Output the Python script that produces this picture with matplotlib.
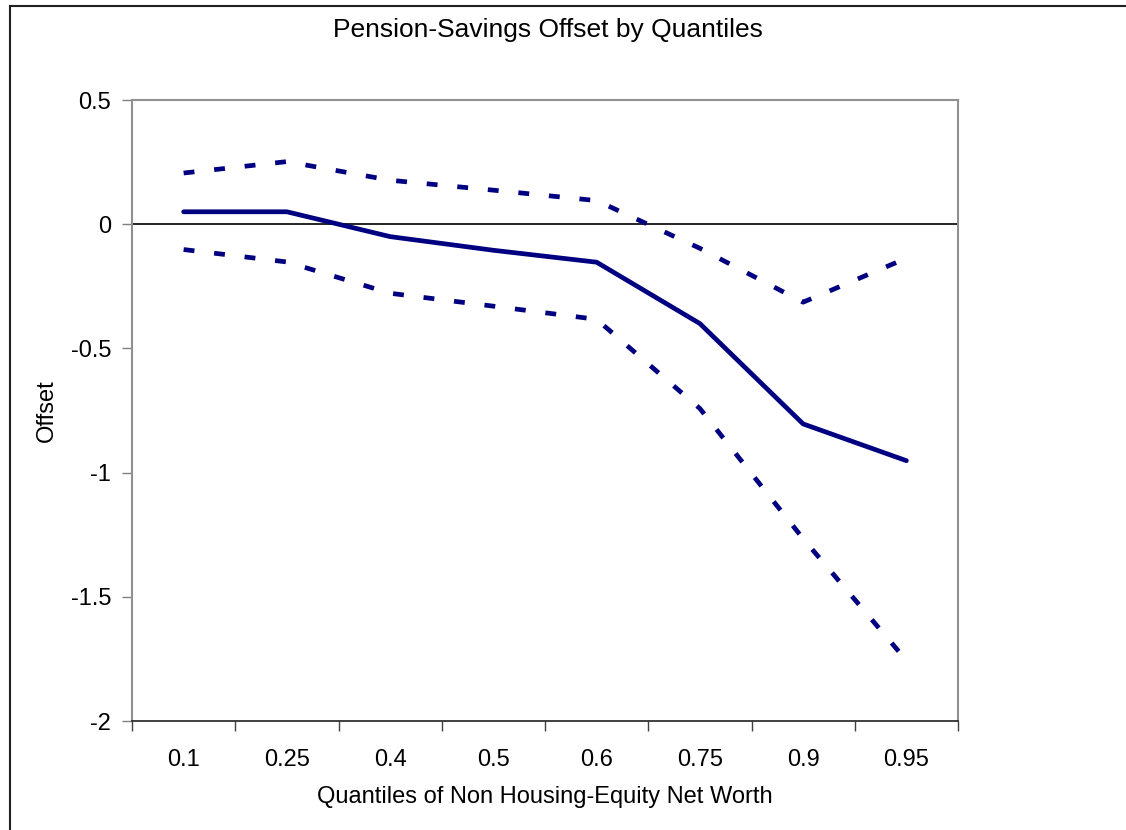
import matplotlib
matplotlib.use("Agg")
import matplotlib.pyplot as plt
from matplotlib.lines import Line2D

plt.rcParams['font.family'] = ['Liberation Sans', 'DejaVu Sans']

categories = ["0.1", "0.25", "0.4", "0.5", "0.6", "0.75", "0.9", "0.95"]
offset = [0.05, 0.05, -0.05, -0.105, -0.153, -0.40, -0.804, -0.952]
upper = [0.206, 0.252, 0.177, 0.137, 0.095, -0.097, -0.314, -0.137]
lower = [-0.102, -0.152, -0.278, -0.33, -0.383, -0.742, -1.266, -1.756]
yticks = [0.5, 0, -0.5, -1, -1.5, -2]
yticklabels = ["0.5", "0", "-0.5", "-1", "-1.5", "-2"]

W, H = 1126, 830
fig = plt.figure(figsize=(W / 100, H / 100), dpi=100)
ax = fig.add_axes([132 / W, 1 - 721 / H, (958 - 132) / W, (721 - 100) / H])

x = list(range(len(categories)))
navy = "#000080"
lw = 3.4
ax.plot(x, offset, color=navy, lw=lw, solid_capstyle="round", solid_joinstyle="round", zorder=3)
dash = (0, (2.3, 4.2))
ax.plot(x, upper, color=navy, lw=lw, linestyle=dash, dash_capstyle="butt", zorder=3)
ax.plot(x, lower, color=navy, lw=lw, linestyle=dash, dash_capstyle="butt", zorder=3)

ax.axhline(0, color="black", lw=1.2, zorder=2)

ax.set_xlim(-0.5, len(categories) - 0.5)
ax.set_ylim(-2, 0.5)
ax.set_yticks(yticks)
ax.set_yticklabels(yticklabels)
ax.set_xticks(x)
ax.set_xticklabels(categories)
ax.set_xticks([i - 0.5 for i in range(len(categories) + 1)], minor=True)
ax.tick_params(axis="x", which="major", length=0, pad=20, labelsize=17)
ax.tick_params(axis="x", which="minor", length=7, width=1, color="#404040", direction="out")
ax.tick_params(axis="y", length=7, width=1, color="#808080", direction="out", pad=8, labelsize=17)

for s in ["left", "top", "right"]:
    ax.spines[s].set_color("#909090")
    ax.spines[s].set_linewidth(1.5)
ax.spines["bottom"].set_color("#202020")
ax.spines["bottom"].set_linewidth(1.2)

ax.set_xlabel("Quantiles of Non Housing-Equity Net Worth", fontsize=17, labelpad=11)
ax.set_ylabel("Offset", fontsize=17, labelpad=9)
fig.text(548 / W, 1 - 30 / H, "Pension-Savings Offset by Quantiles", fontsize=19,
         ha="center", va="center")

# figure border (top and left visible)
fig.add_artist(Line2D([10 / W, 1.0], [1 - 6 / H, 1 - 6 / H], transform=fig.transFigure,
                      color="#202020", lw=1.5))
fig.add_artist(Line2D([10 / W, 10 / W], [1 - 6 / H, 0.0], transform=fig.transFigure,
                      color="#202020", lw=1.5))

fig.savefig("out.png", dpi=100)
